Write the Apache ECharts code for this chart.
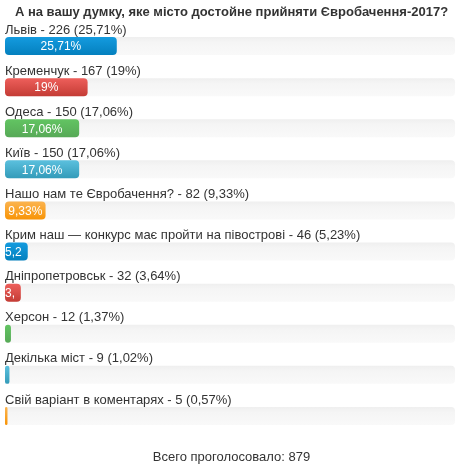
<!DOCTYPE html>
<html>
<head>
<meta charset="utf-8">
<script src="https://cdn.jsdelivr.net/npm/echarts@6/dist/echarts.min.js"></script>
<style>
  html, body { margin: 0; padding: 0; background: #fff; }
  #chart { width: 463px; height: 469px; }
</style>
</head>
<body>
<div id="chart"></div>
<script>
// дані опитування
const titleText = 'А на вашу думку, яке місто достойне прийняти Євробачення-2017?';
const options = ['Львів', 'Кременчук', 'Одеса', 'Київ', 'Нашо нам те Євробачення?',
  'Крим наш — конкурс має пройти на півострові', 'Дніпропетровськ', 'Херсон',
  'Декілька міст', 'Свій варіант в коментарях'];
const votes = [226, 167, 150, 150, 82, 46, 32, 12, 9, 5];
const percents = [25.71, 19, 17.06, 17.06, 9.33, 5.23, 3.64, 1.37, 1.02, 0.57];
const percentLabels = ['25,71%', '19%', '17,06%', '17,06%', '9,33%', '5,23%', '3,64%', '1,37%', '1,02%', '0,57%'];
const totalVotes = 879;

const FONT = '"Liberation Sans", Arial, sans-serif';

// кольори смужок (bootstrap progress)
const barColors = [
  ['#149bdf', '#0480be'],
  ['#ee5f5b', '#c43c35'],
  ['#62c462', '#57a957'],
  ['#5bc0de', '#339bb9'],
  ['#fbb450', '#f89406']
];

const measureCtx = document.createElement('canvas').getContext('2d');
measureCtx.font = '12px ' + FONT;

const chart = echarts.init(document.getElementById('chart'));

const option = {
  animation: false,
  title: [
    {
      text: titleText,
      left: 'center',
      top: 1,
      textStyle: { fontSize: 13, fontWeight: 'bold', color: '#333', fontFamily: FONT }
    },
    {
      text: 'Всего проголосовало: ' + totalVotes,
      left: 'center',
      top: 446,
      textStyle: { fontSize: 13, fontWeight: 'normal', color: '#333', fontFamily: FONT }
    }
  ],
  grid: { left: 5, right: 8, top: 25.5, bottom: 32.5 },
  xAxis: { type: 'value', min: 0, max: 103.5, show: false },
  yAxis: { type: 'category', data: options, inverse: true, show: false },
  series: [{
    type: 'custom',
    data: percents.map((p, i) => [p, i]),
    renderItem(params, api) {
      const i = api.value(1);
      const end = api.coord([api.value(0), i]);
      const start = api.coord([0, i]);
      const cy = end[1];
      const w = end[0] - start[0];
      const h = 18;
      const col = barColors[i % barColors.length];
      const txt = percentLabels[i];
      const tw = measureCtx.measureText(txt).width;
      const fits = tw <= w;
      const children = [
        {
          type: 'rect',
          shape: { x: params.coordSys.x, y: cy - h / 2, width: params.coordSys.width, height: h, r: 4 },
          style: {
            fill: new echarts.graphic.LinearGradient(0, 0, 0, 1, [
              { offset: 0, color: '#efefef' }, { offset: 0.3, color: '#f5f5f5' }, { offset: 1, color: '#f9f9f9' }
            ])
          }
        },
        {
          type: 'rect',
          shape: { x: start[0], y: cy - h / 2, width: w, height: h, r: 4 },
          style: {
            fill: new echarts.graphic.LinearGradient(0, 0, 0, 1, [
              { offset: 0, color: col[0] }, { offset: 1, color: col[1] }
            ])
          }
        },
        {
          type: 'text',
          style: {
            text: options[i] + ' - ' + votes[i] + ' (' + percentLabels[i] + ')',
            x: start[0], y: cy - 16,
            textAlign: 'left', textVerticalAlign: 'middle',
            font: '13px ' + FONT, fill: '#333'
          }
        }
      ];
      if (w > 3) {
        children.push({
          type: 'text',
          style: {
            text: txt,
            x: fits ? start[0] + w / 2 : start[0],
            y: cy + 1,
            textAlign: fits ? 'center' : 'left', textVerticalAlign: 'middle',
            width: fits ? undefined : w,
            overflow: fits ? 'none' : 'truncate',
            ellipsis: '',
            font: '12px ' + FONT, fill: '#fff'
          }
        });
      }
      return { type: 'group', children: children };
    }
  }]
};

chart.setOption(option);
</script>
</body>
</html>
